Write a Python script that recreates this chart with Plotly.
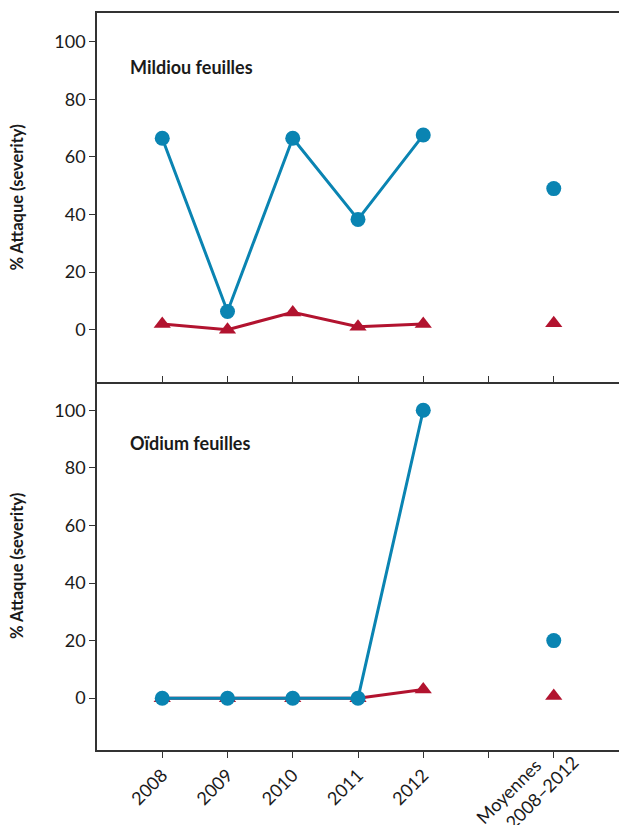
import plotly.graph_objects as go
from plotly.subplots import make_subplots

categories = ["2008", "2009", "2010", "2011", "2012", "", "Moyennes<br>2008–2012"]
x_years = [0, 1, 2, 3, 4]
x_mean = [6]

mildiou_blue = [66.5, 6.3, 66.5, 38.3, 67.6]
mildiou_blue_mean = [49.0]
mildiou_red = [2.0, 0.0, 6.0, 1.0, 2.0]
mildiou_red_mean = [2.2]

oidium_blue = [0.0, 0.0, 0.0, 0.0, 100.0]
oidium_blue_mean = [20.0]
oidium_red = [0.0, 0.0, 0.0, 0.0, 3.0]
oidium_red_mean = [0.8]

BLUE = "#0a84b2"
RED = "#b2132f"
FONT = "Lato"
TXT = "#1a1a1a"

fig = make_subplots(rows=2, cols=1, shared_xaxes=True, vertical_spacing=0)

def add_series(row, yb, ybm, yr, yrm):
    fig.add_trace(go.Scatter(x=x_years, y=yr, mode="lines+markers",
                             line=dict(color=RED, width=3),
                             marker=dict(symbol="triangle-up", size=15, color=RED),
                             showlegend=False), row=row, col=1)
    fig.add_trace(go.Scatter(x=x_mean, y=yrm, mode="markers",
                             marker=dict(symbol="triangle-up", size=15, color=RED),
                             showlegend=False), row=row, col=1)
    fig.add_trace(go.Scatter(x=x_years, y=yb, mode="lines+markers",
                             line=dict(color=BLUE, width=3),
                             marker=dict(symbol="circle", size=15, color=BLUE),
                             showlegend=False), row=row, col=1)
    fig.add_trace(go.Scatter(x=x_mean, y=ybm, mode="markers",
                             marker=dict(symbol="circle", size=15, color=BLUE),
                             showlegend=False), row=row, col=1)

add_series(1, mildiou_blue, mildiou_blue_mean, mildiou_red, mildiou_red_mean)
add_series(2, oidium_blue, oidium_blue_mean, oidium_red, oidium_red_mean)

# multi-line rotated label for the last tick drawn as annotations (right/top anchored)
ticktext = [c if "<br>" not in c else "" for c in categories]
mean_lines = categories[6].split("<br>")

axis_font = dict(family=FONT, size=18, color=TXT)
common_x = dict(range=[-1, 7], tickmode="array", tickvals=list(range(len(categories))),
                ticktext=ticktext, showline=True, linecolor="#333333", linewidth=1.5,
                showgrid=False, zeroline=False, ticklen=6, tickcolor="#333333",
                tickfont=axis_font, automargin=False)
fig.update_xaxes(**common_x)
fig.update_xaxes(row=1, col=1, ticks="inside", mirror=True, showticklabels=False)
fig.update_xaxes(row=2, col=1, ticks="outside", tickangle=-45, showticklabels=True)

fig.update_yaxes(range=[-18, 110], tickvals=[0, 20, 40, 60, 80, 100], showline=True,
                 linecolor="#333333", linewidth=1.5, showgrid=False, zeroline=False,
                 ticks="outside", ticklen=6, tickcolor="#333333", tickfont=axis_font,
                 automargin=False)

for yd in ["y domain", "y2 domain"]:
    fig.add_annotation(text="<b>% Attaque (severity)</b>", xref="paper", yref=yd,
                       x=-0.153, y=0.5, xanchor="center", yanchor="middle",
                       textangle=-90, showarrow=False,
                       font=dict(family=FONT, size=16.5, color=TXT))

fig.add_annotation(text="<b>Mildiou feuilles</b>", xref="x domain", yref="y domain",
                   x=0.059, y=0.853, xanchor="left", yanchor="middle", showarrow=False,
                   font=dict(family=FONT, size=18, color=TXT))
fig.add_annotation(text="<b>Oïdium feuilles</b>", xref="x2 domain", yref="y2 domain",
                   x=0.059, y=0.832, xanchor="left", yanchor="middle", showarrow=False,
                   font=dict(family=FONT, size=18, color=TXT))

for txt, px, py in [(mean_lines[0], 0.864, -0.0015), (mean_lines[1], 0.9365, 0.002)]:
    fig.add_annotation(text=txt, xref="paper", yref="paper", x=px, y=py,
                       xanchor="right", yanchor="top", textangle=-45, showarrow=False,
                       font=axis_font)

fig.update_layout(width=619, height=825, margin=dict(l=97, r=0, t=13, b=75),
                  paper_bgcolor="white", plot_bgcolor="white",
                  font=dict(family=FONT))

fig.write_html("out.html", config={"displayModeBar": False},
               post_script="document.body.style.margin='0';document.body.style.overflow='hidden';")
